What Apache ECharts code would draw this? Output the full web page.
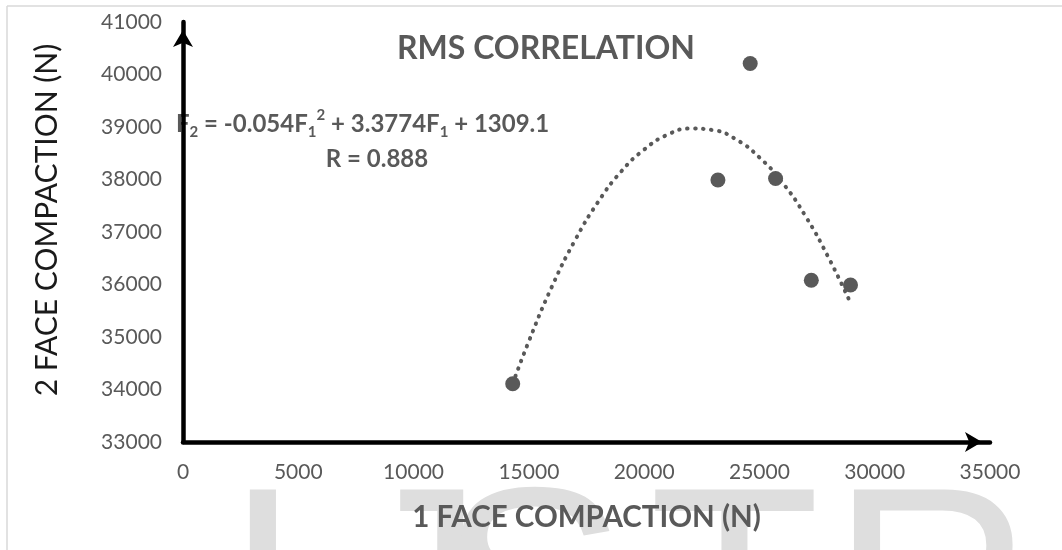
<!DOCTYPE html>
<html>
<head>
<meta charset="utf-8">
<style>
html, body { margin: 0; padding: 0; background: #fff; }
#chart { width: 1062px; height: 550px; }
</style>
<script src="https://cdn.jsdelivr.net/npm/echarts@6/dist/echarts.min.js"></script>
</head>
<body>
<div id="chart"></div>
<script>
// measured points, 1 face vs 2 face compaction (N)
var face1 = [14300, 23200, 24600, 25700, 27250, 28950];
var face2 = [34110, 37990, 40210, 38020, 36080, 35990];

// polynomial trendline
var trendX = [14300, 15000, 16000, 17000, 18000, 19000, 20000, 21000, 22000, 23000, 24000, 25000, 26000, 27000, 28000, 28950];
var trendY = [34110, 34920, 35960, 36840, 37570, 38150, 38570, 38850, 38970, 38940, 38760, 38420, 37940, 37300, 36510, 35650];

var xTicks = { min: 0, max: 35000, step: 5000 };
var yTicks = { min: 33000, max: 41000, step: 1000 };

var grey = "#595959";
var font = "Lato, 'Open Sans', sans-serif";

var myChart = echarts.init(document.getElementById("chart"));

var pts = face1.map(function (v, i) { return [v, face2[i]]; });
var trend = trendX.map(function (v, i) { return [v, trendY[i]]; });

// watermark letters
var mark = [
  { ch: "I", x: 224 },
  { ch: "J", x: 344 },
  { ch: "S", x: 440 },
  { ch: "T", x: 649 },
  { ch: "R", x: 831 },
];

var graphic = mark.map(function (m) {
  return {
    type: "text",
    left: m.x,
    top: 465,
    z: -10,
    style: {
      text: m.ch,
      fill: "#dedede",
      font: "280px 'Liberation Sans', Arial, sans-serif",
    },
  };
});

graphic.push(
  // frame lines
  { type: "line", z: -5, shape: { x1: 7, y1: 6, x2: 1062, y2: 6 }, style: { stroke: "#d9d9d9", lineWidth: 1.5 } },
  { type: "line", z: -5, shape: { x1: 7, y1: 6, x2: 7, y2: 550 }, style: { stroke: "#d9d9d9", lineWidth: 1.5 } },
  // y axis name
  {
    type: "text",
    x: 47,
    y: 220,
    rotation: Math.PI / 2,
    style: {
      text: "2 FACE COMPACTION (N)",
      fill: "#1a1a1a",
      font: "30px " + font,
      align: "center",
      verticalAlign: "middle",
    },
  },
  // equation, sits under the y axis line like the original
  {
    type: "text",
    x: 176,
    y: 124,
    z: -1,
    style: {
      text: "{b|F}{sub|2}{b| = -0.054F}{sub|1}{sup|2}{b| + 3.3774F}{sub|1}{b| + 1309.1}",
      align: "left",
      verticalAlign: "middle",
      rich: {
        b: { fontSize: 24, fontWeight: "bold", fontFamily: font, fill: grey, lineHeight: 32, verticalAlign: "middle" },
        sub: { fontSize: 15, fontWeight: "bold", fontFamily: font, fill: grey, lineHeight: 15, verticalAlign: "bottom" },
        sup: { fontSize: 15, fontWeight: "bold", fontFamily: font, fill: grey, lineHeight: 15, verticalAlign: "top" },
      },
    },
  },
  {
    type: "text",
    x: 377,
    y: 159,
    z: 10,
    style: {
      text: "R = 0.888",
      fill: grey,
      font: "bold 24px " + font,
      align: "center",
      verticalAlign: "middle",
    },
  }
);

function plain(v) { return String(v); }

var option = {
  animation: false,
  title: {
    text: "RMS CORRELATION",
    left: 541,
    top: 28,
    textAlign: "center",
    textStyle: { color: grey, fontSize: 32, fontWeight: "bold", fontFamily: font },
  },
  grid: { left: 183, right: 72, top: 22, bottom: 108 },
  xAxis: {
    type: "value",
    min: xTicks.min,
    max: xTicks.max,
    interval: xTicks.step,
    name: "1 FACE COMPACTION (N)",
    nameLocation: "middle",
    nameGap: 60,
    nameTextStyle: { color: grey, fontSize: 29.5, fontWeight: "bold", fontFamily: font },
    axisLine: {
      lineStyle: { color: "#000", width: 4.5 },
      symbol: ["none", "arrow"],
      symbolSize: [15, 17],
      symbolOffset: [0, -8],
    },
    axisTick: { show: false },
    splitLine: { show: false },
    axisLabel: { color: grey, fontSize: 21, fontFamily: font, margin: 20, formatter: plain },
  },
  yAxis: {
    type: "value",
    min: yTicks.min,
    max: yTicks.max,
    interval: yTicks.step,
    axisLine: {
      show: true,
      lineStyle: { color: "#000", width: 4.5 },
      symbol: ["none", "arrow"],
      symbolSize: [15, 17],
      symbolOffset: [0, -8],
    },
    axisTick: { show: false },
    splitLine: { show: false },
    axisLabel: { color: grey, fontSize: 21, fontFamily: font, margin: 21, formatter: plain },
  },
  graphic: graphic,
  series: [
    {
      name: "trend",
      type: "line",
      data: trend,
      smooth: true,
      showSymbol: false,
      z: 2,
      lineStyle: { color: grey, width: 4, type: [0.5, 7.5], cap: "round" },
    },
    {
      name: "RMS",
      type: "scatter",
      data: pts,
      symbolSize: 15,
      z: 3,
      itemStyle: { color: grey, opacity: 1 },
    },
  ],
};

myChart.setOption(option);
</script>
</body>
</html>
